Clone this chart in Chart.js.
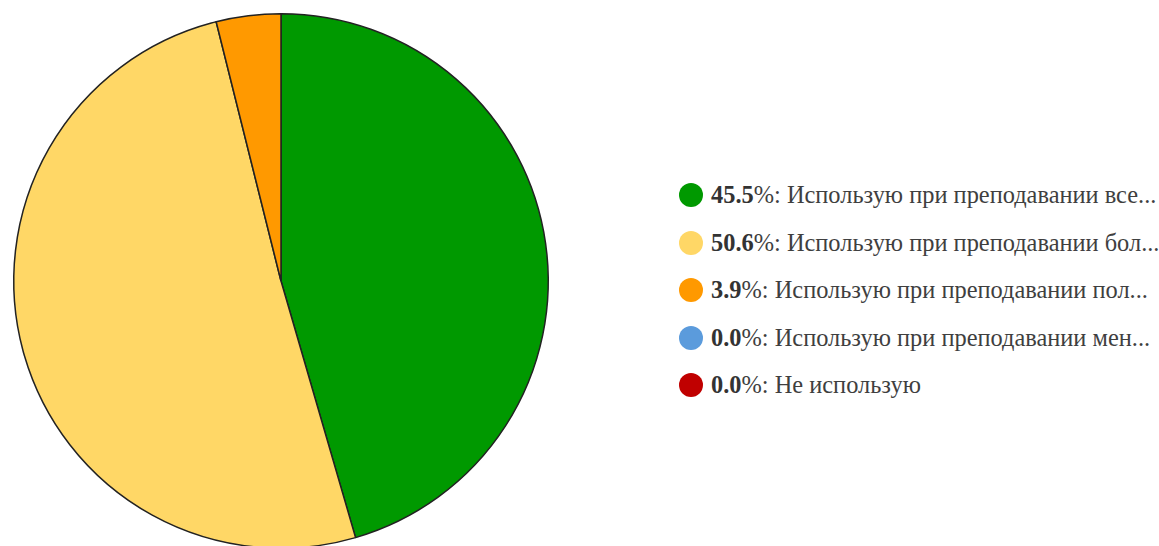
<!DOCTYPE html>
<html>
<head>
<meta charset="utf-8">
<script src="https://cdn.jsdelivr.net/npm/chart.js@4/dist/chart.umd.min.js"></script>
<style>
  html, body { margin: 0; padding: 0; background: #fff; overflow: hidden; width: 1159px; height: 546px; }
  #wrap { position: absolute; left: 0; top: 0; width: 562px; height: 562px; }
  #legend { position: absolute; left: 679px; top: 181px; font-family: "Liberation Serif", serif; font-size: 24.4px; color: #3f3f3f; }
  #legend .row { display: flex; align-items: center; white-space: nowrap; height: 28px; margin-bottom: 19.5px; }
  #legend .dot { width: 24px; height: 24px; border-radius: 50%; margin: 0 8px 0 0; flex: none; }
  #legend b { color: #333; }
</style>
</head>
<body>
<div id="wrap"><canvas id="pie"></canvas></div>
<div id="legend"></div>
<script>
// доли ответов (%)
const labels = [
  "Использую при преподавании все...",
  "Использую при преподавании бол...",
  "Использую при преподавании пол...",
  "Использую при преподавании мен...",
  "Не использую",
];
const values = [45.5, 50.6, 3.9, 0.0, 0.0];
const colors = ["#009900", "#ffd766", "#ff9900", "#5b9bdc", "#c00000"];

new Chart(document.getElementById("pie"), {
  type: "pie",
  data: {
    labels,
    datasets: [{
      data: values,
      backgroundColor: colors,
      borderColor: "#222",
      borderWidth: 1.5,
    }],
  },
  options: {
    responsive: true,
    maintainAspectRatio: false,
    animation: false,
    layout: { padding: 13 },
    plugins: { legend: { display: false }, tooltip: { enabled: false } },
  },
});

const legend = document.getElementById("legend");
labels.forEach((lab, i) => {
  const row = document.createElement("div");
  row.className = "row";
  row.innerHTML = `<span class="dot" style="background:${colors[i]}"></span>` +
    `<span><b>${values[i].toFixed(1)}</b>%: ${lab}</span>`;
  legend.appendChild(row);
});
</script>
</body>
</html>
